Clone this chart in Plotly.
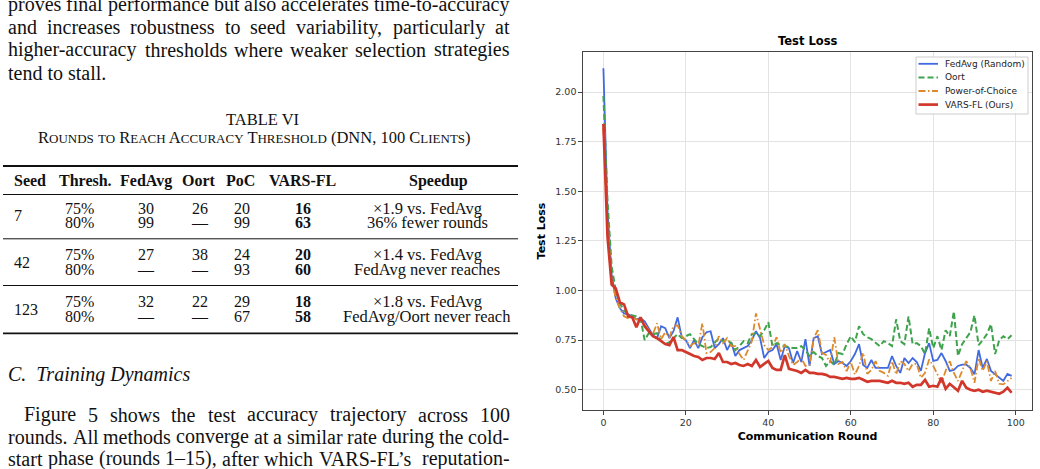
import plotly.graph_objects as go

# ---------------- data ----------------
rounds = list(range(100))

fedavg = [2.12, 1.40, 1.08, 0.96, 0.91, 0.885, 0.88, 0.87, 0.855, 0.86,
          0.845, 0.81, 0.775, 0.76, 0.82, 0.81, 0.76, 0.795, 0.865, 0.765,
          0.75, 0.71, 0.75, 0.71, 0.765, 0.79, 0.795, 0.71, 0.73, 0.76,
          0.70, 0.74, 0.67, 0.70, 0.71, 0.72, 0.75, 0.795, 0.76, 0.66,
          0.69, 0.70, 0.73, 0.65, 0.72, 0.71, 0.635, 0.695, 0.64, 0.755,
          0.62, 0.76, 0.77, 0.68, 0.69, 0.70, 0.63, 0.645, 0.635, 0.62,
          0.645, 0.68, 0.73, 0.625, 0.61, 0.65, 0.61, 0.61, 0.61, 0.61,
          0.67, 0.62, 0.585, 0.66, 0.635, 0.66, 0.64, 0.595, 0.685, 0.735,
          0.645, 0.65, 0.685, 0.645, 0.595, 0.60, 0.62, 0.627, 0.627, 0.61,
          0.578, 0.70, 0.61, 0.655, 0.595, 0.578, 0.56, 0.545, 0.58, 0.57]

oort = [1.98, 1.45, 1.12, 1.00, 0.935, 0.90, 0.88, 0.875, 0.87, 0.86,
        0.75, 0.785, 0.78, 0.785, 0.745, 0.73, 0.74, 0.76, 0.78, 0.76,
        0.77, 0.78, 0.755, 0.73, 0.72, 0.71, 0.715, 0.74, 0.76, 0.745,
        0.75, 0.735, 0.70, 0.72, 0.745, 0.735, 0.78, 0.785, 0.77, 0.80,
        0.84, 0.72, 0.735, 0.725, 0.72, 0.715, 0.71, 0.71, 0.72, 0.70,
        0.67, 0.69, 0.67, 0.66, 0.62, 0.645, 0.625, 0.685, 0.68, 0.73,
        0.77, 0.74, 0.82, 0.78, 0.765, 0.755, 0.735, 0.72, 0.745, 0.735,
        0.72, 0.855, 0.745, 0.73, 0.87, 0.73, 0.735, 0.72, 0.68, 0.81,
        0.71, 0.77, 0.70, 0.80, 0.77, 0.895, 0.67, 0.73, 0.76, 0.79,
        0.875, 0.725, 0.75, 0.78, 0.83, 0.68, 0.75, 0.77, 0.755, 0.775]

poc = [1.82, 1.33, 1.05, 0.96, 0.91, 0.87, 0.86, 0.87, 0.855, 0.85,
       0.83, 0.80, 0.78, 0.835, 0.755, 0.79, 0.765, 0.82, 0.825, 0.77,
       0.75, 0.72, 0.735, 0.72, 0.835, 0.685, 0.69, 0.71, 0.77, 0.735,
       0.76, 0.72, 0.72, 0.68, 0.65, 0.70, 0.745, 0.885, 0.81, 0.725,
       0.70, 0.715, 0.765, 0.685, 0.73, 0.67, 0.625, 0.64, 0.66, 0.62,
       0.625, 0.76, 0.80, 0.686, 0.675, 0.636, 0.765, 0.63, 0.64, 0.594,
       0.64, 0.577, 0.62, 0.686, 0.58, 0.60, 0.644, 0.595, 0.585, 0.57,
       0.644, 0.577, 0.644, 0.63, 0.594, 0.63, 0.63, 0.56, 0.585, 0.653,
       0.62, 0.58, 0.535, 0.595, 0.644, 0.585, 0.544, 0.595, 0.644, 0.61,
       0.535, 0.66, 0.595, 0.644, 0.544, 0.595, 0.53, 0.527, 0.545, 0.56]

varsfl = [1.84, 1.27, 1.03, 1.01, 0.94, 0.93, 0.87, 0.865, 0.815, 0.865,
          0.82, 0.795, 0.77, 0.76, 0.745, 0.73, 0.725, 0.765, 0.70, 0.70,
          0.69, 0.68, 0.67, 0.665, 0.65, 0.66, 0.66, 0.655, 0.685, 0.64,
          0.64, 0.63, 0.635, 0.625, 0.62, 0.63, 0.62, 0.65, 0.615, 0.63,
          0.645, 0.61, 0.60, 0.60, 0.675, 0.605, 0.60, 0.595, 0.585, 0.60,
          0.585, 0.585, 0.58, 0.58, 0.575, 0.565, 0.565, 0.56, 0.555, 0.56,
          0.555, 0.555, 0.56, 0.55, 0.54, 0.545, 0.545, 0.545, 0.54, 0.535,
          0.545, 0.535, 0.535, 0.53, 0.535, 0.515, 0.525, 0.525, 0.55, 0.515,
          0.52, 0.515, 0.56, 0.505, 0.53, 0.51, 0.495, 0.545, 0.51, 0.50,
          0.495, 0.50, 0.49, 0.495, 0.49, 0.485, 0.48, 0.49, 0.51, 0.485]

series_names = ["FedAvg (Random)", "Oort", "Power-of-Choice", "VARS-FL (Ours)"]
series_values = [fedavg, oort, poc, varsfl]
series_colors = ["#4169E1", "#3FA34D", "#DD8A2E", "#D1372B"]
series_dash = ["solid", "6px,3px", "7px,2.5px,1.5px,2.5px", "solid"]
series_width = [1.8, 2.0, 1.8, 2.7]

x_ticks = [0, 20, 40, 60, 80, 100]
y_ticks = [0.50, 0.75, 1.00, 1.25, 1.50, 1.75, 2.00]

# page text
top_lines = ["proves final performance but also accelerates time-to-accuracy",
             "and increases robustness to seed variability, particularly at",
             "higher-accuracy thresholds where weaker selection strategies",
             "tend to stall."]
section_title = "C.\u00a0 Training Dynamics"
bottom_lines = ["Figure 5 shows the test accuracy trajectory across 100",
                "rounds. All methods converge at a similar rate during the cold-",
                "start phase (rounds 1\u201315), after which VARS-FL\u2019s reputation-"]

table_title = "TABLE VI"
table_caption = "Rounds to Reach Accuracy Threshold (DNN, 100 Clients)"
table_header = ["Seed", "Thresh.", "FedAvg", "Oort", "PoC", "VARS-FL", "Speedup"]
table_seeds = ["7", "42", "123"]
table_rows = [
    ["75%", "30", "26", "20", "16", "\u00d71.9 vs. FedAvg"],
    ["80%", "99", "\u2014", "99", "63", "36% fewer rounds"],
    ["75%", "27", "38", "24", "20", "\u00d71.4 vs. FedAvg"],
    ["80%", "\u2014", "\u2014", "93", "60", "FedAvg never reaches"],
    ["75%", "32", "22", "29", "18", "\u00d71.8 vs. FedAvg"],
    ["80%", "\u2014", "\u2014", "67", "58", "FedAvg/Oort never reach"],
]

# ---------------- layout geometry (pixels) ----------------
W, H = 1040, 469
PL, PR, PT, PB = 583, 1032, 52, 410


def px(x):
    return (x - PL) / (PR - PL)


def py(y):
    return (PB - y) / (PB - PT)


SERIF = "Liberation Serif, Times New Roman, serif"
SANS = "DejaVu Sans, sans-serif"
INK = "#111111"

TW = {' ': 250, '!': 333, '%': 833, '(': 333, ')': 333, ',': 250, '-': 333, '.': 250,
      '/': 278, ':': 278, ';': 278, '?': 444, '\u2013': 500, '\u2014': 1000, '\u2019': 333,
      'A': 722, 'B': 667, 'C': 667, 'D': 722, 'E': 611, 'F': 556, 'G': 722, 'H': 722,
      'I': 333, 'J': 389, 'K': 722, 'L': 611, 'M': 889, 'N': 722, 'O': 722, 'P': 556,
      'Q': 722, 'R': 667, 'S': 556, 'T': 611, 'U': 722, 'V': 722, 'W': 944, 'X': 722,
      'Y': 722, 'Z': 611, 'a': 444, 'b': 500, 'c': 444, 'd': 500, 'e': 444, 'f': 333,
      'g': 500, 'h': 500, 'i': 278, 'j': 278, 'k': 500, 'l': 278, 'm': 778, 'n': 500,
      'o': 500, 'p': 500, 'q': 500, 'r': 333, 's': 389, 't': 278, 'u': 500, 'v': 500,
      'w': 722, 'x': 500, 'y': 500, 'z': 444}
for d in "0123456789":
    TW[d] = 500

annotations = []
shapes = []


def text_at(text, x, yc, size, family=SERIF, xanchor="left", color=INK):
    annotations.append(dict(text=text, x=px(x), y=py(yc), xref="paper", yref="paper",
                            xanchor=xanchor, yanchor="middle", showarrow=False,
                            borderpad=0, font=dict(family=family, size=size, color=color)))


BODY = 20.0
X0, X1 = 7.3, 508.5


def body_line(line, baseline, justify=True, indent=0.0, size=BODY):
    yc = baseline - 0.34 * size
    words = line.split(" ")
    if not justify or len(words) < 2:
        text_at(line, X0 + indent, yc, size)
        return
    widths = [sum(TW.get(c, 500) for c in w) * size / 1000 for w in words]
    gap = ((X1 - X0 - indent) - sum(widths)) / (len(words) - 1)
    x = X0 + indent
    for w, wd in zip(words, widths):
        text_at(w, x, yc, size)
        x += wd + gap


top_baselines = [11.0, 33.8, 56.6, 79.4]
for i, ln in enumerate(top_lines):
    body_line(ln, top_baselines[i], justify=(i < len(top_lines) - 1))

text_at("<i>" + section_title + "</i>", X0, 381 - 0.34 * BODY, BODY)
bottom_baselines = [421.5, 443.5, 465.5]
for i, ln in enumerate(bottom_lines):
    body_line(ln, bottom_baselines[i], justify=True, indent=16.0 if i == 0 else 0.0)

# table caption
text_at(table_title, 262, 119.5, 16.5, xanchor="center")


def small_caps(s, small):
    out = ""
    buf = ""
    for ch in s:
        if ch.islower():
            buf += ch.upper()
        else:
            if buf:
                out += '<span style="font-size:%dpx">%s</span>' % (small, buf)
                buf = ""
            out += ch
    if buf:
        out += '<span style="font-size:%dpx">%s</span>' % (small, buf)
    return out


text_at(small_caps(table_caption, 13), 254, 137.5, 16.5, xanchor="center")

# table rules
TL, TR = 3, 518
for yy, lw in [(166, 1.8), (194.5, 1.0), (238.8, 1.0), (285.5, 1.0), (333.3, 1.8)]:
    shapes.append(dict(type="line", xref="paper", yref="paper", x0=px(TL), x1=px(TR),
                       y0=py(yy), y1=py(yy), line=dict(color=INK, width=lw)))

TS = 16
hdr_x = [13, 86, 146, 199, 240, 302, 438]
hdr_anchor = ["left", "center", "center", "center", "center", "center", "center"]
for h, xx, an in zip(table_header, hdr_x, hdr_anchor):
    text_at("<b>" + h + "</b>", xx, 180.5, TS, xanchor=an)

col_x = [80, 146, 199.5, 242, 303, 427]
row_y = [208.5, 222.8, 254.5, 269, 301.5, 316]
for r, row in enumerate(table_rows):
    for c, val in enumerate(row):
        t = "<b>" + val + "</b>" if c == 4 else val
        text_at(t, col_x[c], row_y[r], 16.5 if c == 5 else TS, xanchor="center")
seed_y = [215.5, 262, 309]
for s, yy in zip(table_seeds, seed_y):
    text_at(s, 12.5, yy, TS)

# ---------------- chart ----------------
fig = go.Figure()
for name, vals, col, dash, wd in zip(series_names, series_values, series_colors,
                                     series_dash, series_width):
    fig.add_trace(go.Scatter(x=rounds, y=vals, mode="lines", name=name,
                             line=dict(color=col, dash=dash, width=wd),
                             showlegend=False))

# chart title
text_at("<b>Test Loss</b>", (PL + PR) / 2, 41, 11.5, family=SANS, xanchor="center",
        color="#000000")

# legend (drawn box)
LX0, LX1, LY0, LY1 = 916, 1028, 57, 114
shapes.append(dict(type="rect", xref="paper", yref="paper", x0=px(LX0), x1=px(LX1),
                   y0=py(LY1), y1=py(LY0), fillcolor="rgba(255,255,255,0.9)",
                   line=dict(color="#cccccc", width=1)))
leg_y = [63.8, 77.4, 91.0, 104.6]
for name, col, dash, wd, yy in zip(series_names, series_colors, series_dash,
                                   series_width, leg_y):
    shapes.append(dict(type="line", xref="paper", yref="paper", x0=px(918.5), x1=px(938),
                       y0=py(yy), y1=py(yy), line=dict(color=col, dash=dash, width=wd)))
    text_at(name, 944, yy, 9, family=SANS, color="#222222")

fig.update_layout(
    width=W, height=H,
    margin=dict(l=PL, r=W - PR, t=PT, b=H - PB, pad=0),
    paper_bgcolor="white", plot_bgcolor="white",
    showlegend=False,
    annotations=annotations, shapes=shapes,
    font=dict(family=SANS, color="#333333"),
)
fig.update_xaxes(range=[-4.95, 103.95], tickvals=x_ticks, ticktext=[str(v) for v in x_ticks],
                 showgrid=True, gridcolor="#e3e3e3", gridwidth=1, zeroline=False,
                 showline=True, linecolor="#444444", linewidth=1.3, mirror=True,
                 ticks="outside", ticklen=3.5, tickwidth=1, tickcolor="#444444",
                 tickfont=dict(family=SANS, size=9.5, color="#333333"),
                 title=dict(text="<b>Communication Round</b>", standoff=5,
                            font=dict(family=SANS, size=11, color="#000000")))
fig.update_yaxes(range=[0.398, 2.202], tickvals=y_ticks,
                 ticktext=["%.2f" % v for v in y_ticks],
                 showgrid=True, gridcolor="#e3e3e3", gridwidth=1, zeroline=False,
                 showline=True, linecolor="#444444", linewidth=1.3, mirror=True,
                 ticks="outside", ticklen=3.5, tickwidth=1, tickcolor="#444444",
                 tickfont=dict(family=SANS, size=9.5, color="#333333"),
                 title=dict(text="<b>Test Loss</b>", standoff=7,
                            font=dict(family=SANS, size=11, color="#000000")))

fig.write_html("out.html")
